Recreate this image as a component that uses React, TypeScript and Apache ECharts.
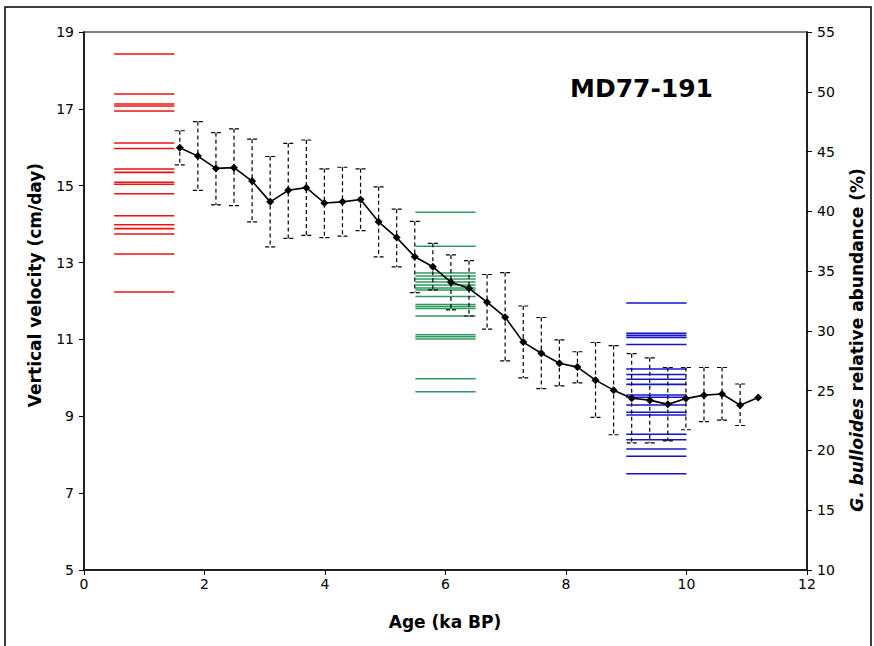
import React, { useEffect, useRef } from "react";
import * as echarts from "echarts";

// Black series: age (ka BP) and vertical velocity (cm/day) with error bars
const ages = [1.59, 1.89, 2.19, 2.49, 2.79, 3.09, 3.39, 3.69, 3.99, 4.29, 4.59, 4.89, 5.19, 5.49, 5.79, 6.09, 6.39, 6.69, 6.99, 7.29, 7.59, 7.89, 8.19, 8.49, 8.79, 9.09, 9.39, 9.69, 9.99, 10.29, 10.59, 10.89, 11.19];
const velocity = [15.99, 15.77, 15.45, 15.47, 15.12, 14.58, 14.88, 14.95, 14.55, 14.58, 14.64, 14.06, 13.65, 13.15, 12.89, 12.49, 12.33, 11.97, 11.58, 10.93, 10.64, 10.38, 10.28, 9.94, 9.68, 9.47, 9.42, 9.31, 9.46, 9.55, 9.58, 9.29, 9.49];
const errHigh = [16.43, 16.67, 16.38, 16.48, 16.21, 15.76, 16.10, 16.19, 15.44, 15.48, 15.44, 14.97, 14.39, 14.07, 13.50, 13.20, 13.05, 12.69, 12.74, 11.87, 11.57, 10.99, 10.68, 10.92, 10.84, 10.63, 10.52, 10.27, 10.27, 10.27, 10.27, 9.84, null];
const errLow = [15.54, 14.88, 14.50, 14.48, 14.06, 13.41, 13.63, 13.71, 13.65, 13.69, 13.83, 13.15, 12.89, 12.22, 12.29, 11.77, 11.61, 11.27, 10.44, 10.00, 9.72, 9.79, 9.87, 8.97, 8.52, 8.31, 8.31, 8.36, 8.65, 8.86, 8.90, 8.76, null];

// G. bulloides relative abundance (%) samples, grouped by age window
const redSpan = [0.5, 1.5];
const redValues = [53.16, 49.81, 48.98, 48.81, 48.39, 45.72, 45.26, 43.54, 43.26, 42.43, 42.26, 41.47, 39.63, 38.88, 38.55, 38.1, 36.43, 33.25];
const greenSpan = [5.5, 6.5];
const greenValues = [39.92, 37.08, 34.84, 34.59, 34.34, 34.09, 33.84, 33.59, 33.42, 32.88, 32.21, 32.04, 31.87, 31.25, 29.68, 29.51, 29.32, 26.0, 24.91];
const blueSpan = [9.0, 10.0];
const blueValues = [32.33, 29.8, 29.63, 29.46, 28.86, 26.81, 26.35, 25.96, 25.53, 24.64, 24.45, 23.8, 23.19, 22.96, 21.35, 20.9, 20.12, 19.52, 18.05];

const FONT = "DejaVu Sans";

function bundle(span: number[], values: number[]) {
  return values.map((v) => [span[0], span[1], v]);
}

function hLineSeries(name: string, span: number[], values: number[], color: string) {
  return {
    name,
    type: "custom",
    yAxisIndex: 1,
    z: 2,
    encode: { x: [0, 1], y: 2 },
    data: bundle(span, values),
    renderItem: (params: any, api: any) => {
      const a = api.coord([api.value(0), api.value(2)]);
      const b = api.coord([api.value(1), api.value(2)]);
      return {
        type: "line",
        shape: { x1: a[0], y1: a[1], x2: b[0], y2: b[1] },
        style: { stroke: color, lineWidth: 1.6 },
      };
    },
  };
}

export default function App() {
  const ref = useRef<HTMLDivElement>(null);
  useEffect(() => {
    document.body.style.margin = "0";
    const chart = echarts.init(ref.current!, null, { renderer: "svg" });
    const errData = ages
      .map((a, i) => (errLow[i] == null ? null : [a, errLow[i], errHigh[i]]))
      .filter((d) => d != null);
    const axisLabel = { color: "#000", fontSize: 14, fontFamily: FONT };
    const titleStyle = { fontSize: 17, fontWeight: "bold", fontFamily: FONT, fill: "#000" };
    chart.setOption({
      animation: false,
      backgroundColor: "#fff",
      title: {
        text: "MD77-191",
        left: 565,
        top: 71,
        textStyle: { fontSize: 25, fontWeight: "bold", fontFamily: FONT, color: "#000" },
      },
      graphic: [
        {
          type: "rect",
          shape: { x: 5, y: 7, width: 866, height: 646 },
          style: { fill: "none", stroke: "#000", lineWidth: 1.5 },
          silent: true,
        },
        {
          type: "text",
          x: 35,
          y: 285,
          rotation: Math.PI / 2,
          style: { ...titleStyle, text: "Vertical velocity (cm/day)", align: "center", verticalAlign: "middle" },
          silent: true,
        },
        {
          type: "text",
          x: 445,
          y: 622,
          style: { ...titleStyle, text: "Age (ka BP)", align: "center", verticalAlign: "middle" },
          silent: true,
        },
        {
          type: "text",
          x: 857,
          y: 340,
          rotation: Math.PI / 2,
          style: {
            text: "{a|G. bulloides}  {b|relative abundance (%)}",
            align: "center",
            verticalAlign: "middle",
            rich: {
              a: { fontSize: 17, fontWeight: "bold", fontStyle: "italic", fontFamily: FONT, fill: "#000" },
              b: { fontSize: 17, fontWeight: "bold", fontFamily: FONT, fill: "#000" },
            },
          },
          silent: true,
        },
      ],
      grid: {
        left: 84,
        right: 67,
        top: 32,
        bottom: 76,
        show: true,
        borderColor: "#808080",
        borderWidth: 2,
      },
      xAxis: {
        type: "value",
        min: 0,
        max: 12,
        interval: 2,
        axisLine: { lineStyle: { color: "#000", width: 1.5 } },
        axisTick: { show: true, length: 5, lineStyle: { color: "#000" } },
        axisLabel: { ...axisLabel, margin: 7 },
        splitLine: { show: false },
      },
      yAxis: [
        {
          type: "value",
          min: 5,
          max: 19,
          interval: 2,
          axisLine: { show: true, lineStyle: { color: "#000", width: 1.5 } },
          axisTick: { show: true, length: 5, lineStyle: { color: "#000" } },
          axisLabel: { ...axisLabel, margin: 10 },
          splitLine: { show: false },
        },
        {
          type: "value",
          min: 10,
          max: 55,
          interval: 5,
          position: "right",
          axisLine: { show: true, lineStyle: { color: "#000", width: 1.5 } },
          axisTick: { show: true, length: 5, lineStyle: { color: "#000" } },
          axisLabel: { ...axisLabel, margin: 10 },
          splitLine: { show: false },
        },
      ],
      series: [
        hLineSeries("red", redSpan, redValues, "#ee1111"),
        hLineSeries("green", greenSpan, greenValues, "#2e9960"),
        hLineSeries("blue", blueSpan, blueValues, "#1515cc"),
        {
          name: "error",
          type: "custom",
          yAxisIndex: 0,
          z: 3,
          encode: { x: 0, y: [1, 2] },
          data: errData,
          renderItem: (params: any, api: any) => {
            const x = api.value(0);
            const top = api.coord([x, api.value(2)]);
            const bot = api.coord([x, api.value(1)]);
            const st = { stroke: "#000", lineWidth: 1.2, lineDash: [4, 3] };
            const cap = { stroke: "#000", lineWidth: 1.2, lineDash: [4, 2] };
            return {
              type: "group",
              children: [
                { type: "line", shape: { x1: top[0], y1: top[1], x2: bot[0], y2: bot[1] }, style: st },
                { type: "line", shape: { x1: top[0] - 5, y1: top[1], x2: top[0] + 5, y2: top[1] }, style: cap },
                { type: "line", shape: { x1: bot[0] - 5, y1: bot[1], x2: bot[0] + 5, y2: bot[1] }, style: cap },
              ],
            };
          },
        },
        {
          name: "velocity",
          type: "line",
          yAxisIndex: 0,
          z: 4,
          data: ages.map((a, i) => [a, velocity[i]]),
          symbol: "diamond",
          symbolSize: 8,
          itemStyle: { color: "#000" },
          lineStyle: { color: "#000", width: 1.6 },
        },
      ],
    });
    return () => chart.dispose();
  }, []);
  return <div ref={ref} style={{ width: 874, height: 646 }} />;
}
